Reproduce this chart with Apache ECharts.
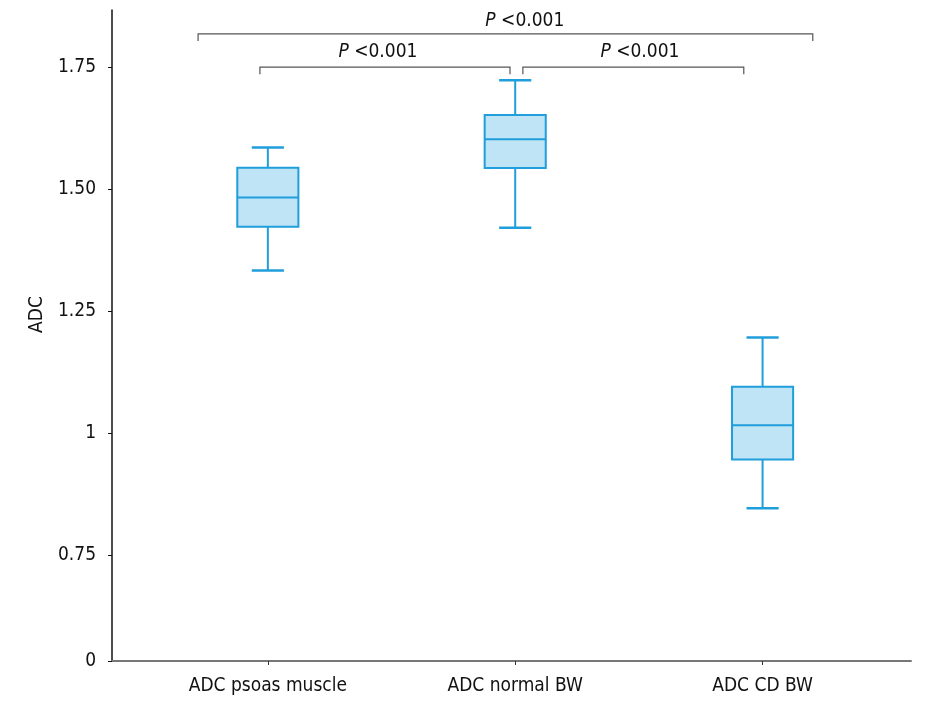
<!DOCTYPE html>
<html>
<head>
<meta charset="utf-8">
<script src="https://cdn.jsdelivr.net/npm/echarts@6/dist/echarts.min.js"></script>
<style>html,body{margin:0;padding:0;background:#fff;}#chart{width:951px;height:705px;}</style>
</head>
<body>
<div id="chart"></div>
<script>
// ---- data ----
var categories = ['ADC psoas muscle', 'ADC normal BW', 'ADC CD BW'];
var categoryPositions = [1, 2, 3];
var whiskerLow = [1.333, 1.421, 0.846];
var q1 = [1.423, 1.543, 0.946];
var median = [1.483, 1.602, 1.016];
var q3 = [1.544, 1.652, 1.095];
var whiskerHigh = [1.585, 1.723, 1.196];
var yTickValues = [0, 0.75, 1, 1.25, 1.5, 1.75];
var yTickLabels = ['0', '0.75', '1', '1.25', '1.50', '1.75'];
var yAxisName = 'ADC';
// significance brackets: [xStart, xEnd, y]
var bracketStart = [0.718, 0.968, 2.031];
var bracketEnd = [3.203, 1.979, 2.924];
var bracketLevel = [1.818, 1.75, 1.75];
var pLabelX = [2.039, 1.445, 2.504];
var pLabelY = [1.845, 1.781, 1.781];
var pLabelItalic = ['P', 'P', 'P'];
var pLabelRest = [' <0.001', ' <0.001', ' <0.001'];

// ---- styles ----
var FONT = '"Liberation Sans Narrow", "Arial Narrow", "DejaVu Sans Condensed", sans-serif';
var FS = 19;
var BOX_FILL = '#bee4f6';
var BOX_STROKE = '#1f9edb';
var BOX_WIDTH = 0.247;
var CAP_WIDTH = 0.13;
var BRACKET_DROP = 0.0145;

var boxData = categoryPositions.map(function (x, i) {
  return [x, whiskerLow[i], q1[i], median[i], q3[i], whiskerHigh[i]];
});
var bracketData = bracketStart.map(function (s, i) { return [s, bracketEnd[i], bracketLevel[i]]; });
var labelData = pLabelX.map(function (x, i) { return [x, pLabelY[i], i]; });

var chart = echarts.init(document.getElementById('chart'));
chart.setOption({
  animation: false,
  backgroundColor: '#ffffff',
  grid: { left: 112, right: 40, top: 10, bottom: 44, containLabel: false },
  xAxis: {
    type: 'value',
    min: 0.37,
    max: 3.6,
    splitLine: { show: false },
    axisLine: { show: true, lineStyle: { color: '#777777', width: 2 } },
    axisTick: { show: true, length: 4, customValues: categoryPositions, lineStyle: { color: '#333', width: 1 } },
    axisLabel: {
      customValues: categoryPositions,
      margin: 16,
      fontFamily: FONT, fontSize: FS, color: '#111',
      formatter: function (v) { var i = categoryPositions.indexOf(v); return i >= 0 ? categories[i] : ''; }
    }
  },
  yAxis: [{
    type: 'value',
    min: 0,
    max: 1.867,
    name: yAxisName,
    nameLocation: 'middle',
    nameRotate: 90,
    nameGap: 64,
    nameTextStyle: { fontFamily: FONT, fontSize: FS, color: '#111', padding: [0, 0, 0, 42] },
    breaks: [{ start: 0.05, end: 0.7, gap: 0.117 }],
    breakArea: { show: false },
    splitLine: { show: false },
    axisLine: { show: false },
    axisTick: { show: true, length: 4, customValues: yTickValues, lineStyle: { color: '#111' } },
    axisLabel: {
      customValues: yTickValues,
      margin: 16,
      fontFamily: FONT, fontSize: FS, color: '#111',
      formatter: function (v) {
        for (var i = 0; i < yTickValues.length; i++) { if (Math.abs(yTickValues[i] - v) < 1e-6) return yTickLabels[i]; }
        return '';
      }
    }
  }, {
    type: 'value',
    position: 'left',
    offset: 0,
    min: 0,
    max: 1,
    splitLine: { show: false },
    axisTick: { show: false },
    axisLabel: { show: false },
    axisLine: { show: true, lineStyle: { color: '#111', width: 1.5 } }
  }],
  series: [
    {
      type: 'custom',
      name: 'box',
      data: boxData,
      encode: { x: 0, y: [1, 2, 3, 4, 5] },
      clip: false,
      renderItem: function (params, api) {
        var x = api.value(0);
        var low = api.coord([x, api.value(1)]);
        var b1 = api.coord([x, api.value(2)]);
        var md = api.coord([x, api.value(3)]);
        var b3 = api.coord([x, api.value(4)]);
        var high = api.coord([x, api.value(5)]);
        var hw = api.size([BOX_WIDTH, 0])[0] / 2;
        var cw = api.size([CAP_WIDTH, 0])[0] / 2;
        var cx = low[0];
        var ls = { stroke: BOX_STROKE, lineWidth: 2 };
        return {
          type: 'group',
          children: [
            { type: 'line', shape: { x1: cx, y1: low[1], x2: cx, y2: b1[1] }, style: ls },
            { type: 'line', shape: { x1: cx, y1: b3[1], x2: cx, y2: high[1] }, style: ls },
            { type: 'line', shape: { x1: cx - cw, y1: low[1], x2: cx + cw, y2: low[1] }, style: { stroke: BOX_STROKE, lineWidth: 2.5 } },
            { type: 'line', shape: { x1: cx - cw, y1: high[1], x2: cx + cw, y2: high[1] }, style: { stroke: BOX_STROKE, lineWidth: 2.5 } },
            { type: 'rect', shape: { x: cx - hw, y: b3[1], width: hw * 2, height: b1[1] - b3[1] }, style: { fill: BOX_FILL, stroke: BOX_STROKE, lineWidth: 2 } },
            { type: 'line', shape: { x1: cx - hw, y1: md[1], x2: cx + hw, y2: md[1] }, style: ls }
          ]
        };
      }
    },
    {
      type: 'custom',
      name: 'brackets',
      data: bracketData,
      encode: { x: [0, 1], y: 2 },
      clip: false,
      silent: true,
      renderItem: function (params, api) {
        var y = api.value(2);
        var p1 = api.coord([api.value(0), y]);
        var p2 = api.coord([api.value(1), y]);
        var d1 = api.coord([api.value(0), y - BRACKET_DROP]);
        var d2 = api.coord([api.value(1), y - BRACKET_DROP]);
        return {
          type: 'polyline',
          shape: { points: [d1, p1, p2, d2] },
          style: { stroke: '#555555', lineWidth: 1.2, fill: null }
        };
      }
    },
    {
      type: 'custom',
      name: 'pvalues',
      data: labelData,
      encode: { x: 0, y: 1 },
      clip: false,
      silent: true,
      renderItem: function (params, api) {
        var p = api.coord([api.value(0), api.value(1)]);
        var i = api.value(2);
        return {
          type: 'text',
          x: p[0], y: p[1],
          style: {
            text: '{i|' + pLabelItalic[i] + '}{r|' + pLabelRest[i] + '}',
            align: 'center', verticalAlign: 'middle',
            rich: {
              i: { fontFamily: FONT, fontSize: FS, fontStyle: 'italic', fill: '#111' },
              r: { fontFamily: FONT, fontSize: FS, fill: '#111' }
            }
          }
        };
      }
    }
  ]
});
</script>
</body>
</html>
